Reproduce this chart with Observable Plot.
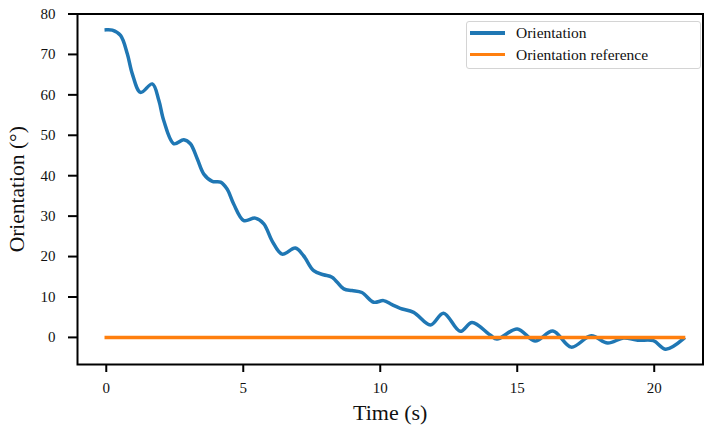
<!DOCTYPE html>
<html>
<head>
<meta charset="utf-8">
<script src="https://cdn.jsdelivr.net/npm/d3@7"></script>
<script src="https://cdn.jsdelivr.net/npm/@observablehq/plot@0.6"></script>
<style>
  html, body { margin: 0; padding: 0; background: #fff; }
  #wrap { position: relative; width: 704px; height: 432px; }
  .legend {
    position: absolute; left: 466px; top: 21px; width: 235px; height: 48px;
    box-sizing: border-box; border: 1px solid #d4d4d4; border-radius: 3px;
    background: rgba(255,255,255,0.8);
    font-family: "Liberation Serif", serif; font-size: 15.5px; color: #111;
  }
  .legend .row { position: absolute; left: 3px; display: flex; align-items: center; }
  .legend .swatch { width: 35px; height: 3.5px; margin-right: 11px; }
</style>
</head>
<body>
<div id="wrap"></div>
<script>
// Measured orientation over time (s, degrees)
const time = [0, 0.22, 0.52, 0.77, 0.95, 1.25, 1.68, 1.92, 2.1, 2.47, 2.83, 3.07, 3.32, 3.56, 3.87, 4.17, 4.41, 4.65, 5.02, 5.44, 5.75, 6.05, 6.42, 6.9, 7.2, 7.57, 7.93, 8.24, 8.67, 8.97, 9.33, 9.76, 10.12, 10.43, 10.73, 11.22, 11.83, 12.31, 12.92, 13.35, 14.01, 14.26, 15.0, 15.65, 16.3, 16.97, 17.7, 18.3, 18.88, 19.4, 19.97, 20.42, 21.07];
const orientation = [76.1, 76.0, 74.7, 70.1, 65.2, 60.6, 62.7, 58.6, 53.6, 47.9, 48.9, 47.9, 44.2, 40.4, 38.6, 38.4, 36.7, 33.0, 28.9, 29.5, 28.1, 23.9, 20.6, 22.1, 20.2, 16.5, 15.5, 14.9, 12.0, 11.6, 11.1, 8.7, 9.1, 8.1, 7.2, 6.2, 3.1, 6.0, 1.5, 3.7, 0.6, -0.4, 2.1, -0.9, 1.6, -2.4, 0.4, -1.4, -0.15, -0.7, -0.8, -2.9, -0.3];

// Reference (target) orientation
const refTime = [0, 21.07];
const refOrientation = [0, 0];

// Axis ticks
const xTicks = [0, 5, 10, 15, 20];
const yTicks = [0, 10, 20, 30, 40, 50, 60, 70, 80];

const seriesNames = ["Orientation", "Orientation reference"];
const seriesColors = ["#1f77b4", "#ff7f0e"];

const measured = time.map((t, i) => ({t, v: orientation[i]}));
const reference = refTime.map((t, i) => ({t, v: refOrientation[i]}));

const chart = Plot.plot({
  width: 704,
  height: 432,
  marginTop: 13.5,
  marginLeft: 77,
  marginRight: 1.5,
  marginBottom: 68,
  style: {fontFamily: "Liberation Serif, serif", fontSize: "15px", color: "#111", background: "#fff", overflow: "visible"},
  x: {domain: [-1.05, 21.78]},
  y: {domain: [-6.7, 80]},
  marks: [
    Plot.line(measured, {x: "t", y: "v", stroke: seriesColors[0], strokeWidth: 3.5, curve: "catmull-rom", strokeLinecap: "square", strokeLinejoin: "round"}),
    Plot.line(reference, {x: "t", y: "v", stroke: seriesColors[1], strokeWidth: 3.5, strokeLinecap: "square"}),
    Plot.frame({stroke: "#000", strokeWidth: 2}),
    Plot.axisX({ticks: xTicks, tickSize: 8, tickPadding: 10, strokeWidth: 2, stroke: "#000", label: null}),
    Plot.axisY({ticks: yTicks, tickSize: 9, tickPadding: 13, strokeWidth: 2, stroke: "#000", label: null}),
    Plot.text(["Time (s)"], {frameAnchor: "bottom", dy: 55, fontSize: 22, fill: "#111"}),
    Plot.text(["Orientation (°)"], {frameAnchor: "left", dx: -60, rotate: -90, textAnchor: "middle", fontSize: 21.5, fill: "#111"})
  ]
});

const wrap = document.getElementById("wrap");
wrap.appendChild(chart);

// Legend box inside the axes, upper right
const legend = document.createElement("div");
legend.className = "legend";
seriesNames.forEach((name, i) => {
  const row = document.createElement("div");
  row.className = "row";
  row.style.top = (i === 0 ? 2 : 23.5) + "px";
  const sw = document.createElement("span");
  sw.className = "swatch";
  sw.style.background = seriesColors[i];
  const label = document.createElement("span");
  label.textContent = name;
  row.appendChild(sw);
  row.appendChild(label);
  legend.appendChild(row);
});
wrap.appendChild(legend);
</script>
</body>
</html>
